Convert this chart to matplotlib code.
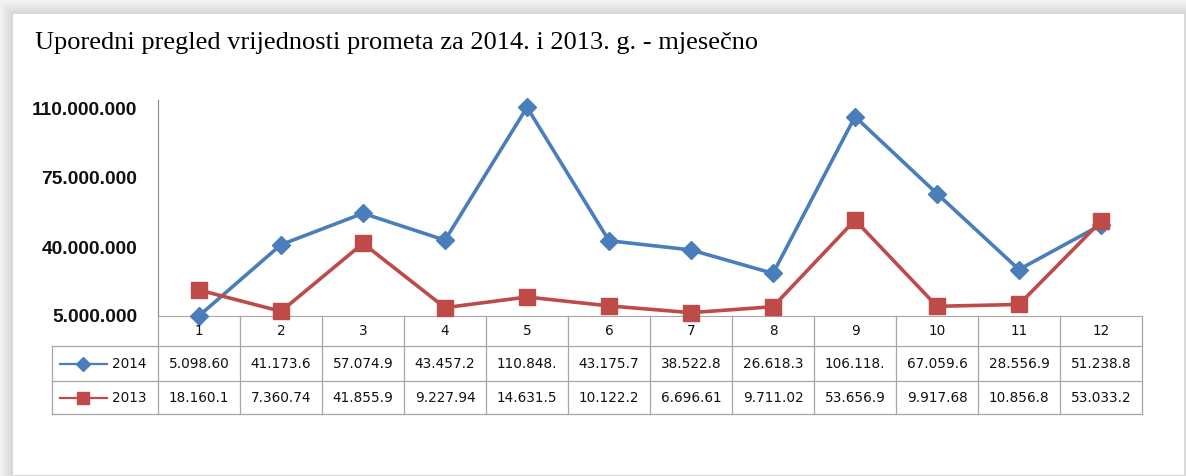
import numpy as np
import matplotlib
matplotlib.use("Agg")
import matplotlib.pyplot as plt
from matplotlib import transforms
from matplotlib.lines import Line2D

# ---- data ----
months = [1, 2, 3, 4, 5, 6, 7, 8, 9, 10, 11, 12]
series_names = ["2014", "2013"]
values_2014 = [5098600, 41173600, 57074900, 43457200, 110848000, 43175700,
               38522800, 26618300, 106118000, 67059600, 28556900, 51238800]
values_2013 = [18160100, 7360740, 41855900, 9227940, 14631500, 10122200,
               6696610, 9711020, 53656900, 9917680, 10856800, 53033200]
yticks = [5000000, 40000000, 75000000, 110000000]
title = "Uporedni pregled vrijednosti prometa za 2014. i 2013. g. - mjesečno"

BLUE = "#4A7EBB"
RED = "#BE4B48"
GRID = "#A6A6A6"

W, H = 1186, 476
fig = plt.figure(figsize=(W / 100, H / 100), dpi=100)
fig.patch.set_facecolor("white")

# ---- shadow frame (decoration) ----
img = np.ones((H, W, 3))
yy, xx = np.mgrid[0:H, 0:W]
px0, py0, px1, py1 = 13, 14, 1183, 474
dx = np.maximum(np.maximum(px0 - xx, xx - px1), 0)
dy = np.maximum(np.maximum(py0 - yy, yy - py1), 0)
d = np.maximum(dx, dy)
inside = (d == 0)
shade = np.where(inside, 1.0, 0.84 + 0.12 * np.clip(d / 14.0, 0, 1))
img *= shade[..., None]
fig.figimage(img, xo=0, yo=0, origin="upper", zorder=0)


def fx(p):
    return p / W


def fy(p):
    return 1 - p / H


ax_left, ax_right, ax_top, ax_bot = 158, 1142, 100, 316
ax = fig.add_axes([fx(ax_left), fy(ax_bot), fx(ax_right - ax_left), (ax_bot - ax_top) / H])
ax.set_zorder(2)
ax.patch.set_alpha(0)
ax.set_xlim(0.5, 12.5)
ymin = 5e6
ax.set_ylim(ymin, ymin + (ax_bot - ax_top) / 207.0 * 105e6)

ax.plot(months, values_2014, color=BLUE, lw=2.6, marker="D", ms=9.5,
        mfc=BLUE, mec=BLUE, zorder=3, clip_on=False, solid_joinstyle="round")
ax.plot(months, values_2013, color=RED, lw=2.6, marker="s", ms=12,
        mfc=RED, mec=RED, zorder=3, clip_on=False, solid_joinstyle="round")

for s in ["top", "right"]:
    ax.spines[s].set_visible(False)
ax.spines["left"].set_color("#868686")
ax.spines["bottom"].set_color(GRID)
ax.spines["left"].set_linewidth(0.8)
ax.spines["bottom"].set_linewidth(0.8)
ax.set_xticks([])
ax.set_yticks(yticks)
ax.set_yticklabels([f"{v:,}".replace(",", ".") for v in yticks],
                   fontfamily="Liberation Sans", fontweight="bold", fontsize=13.8,
                   color="#111111")
ax.tick_params(axis="y", length=0, pad=15)

# ---- data table ----
ah = ax_bot - ax_top
aw = ax_right - ax_left
tr = transforms.blended_transform_factory(ax.transData, ax.transAxes)
rows = [0, -30 / ah, -65 / ah, -98 / ah]
leg_left = (52 - ax_left) / aw

kw = dict(color=GRID, lw=0.9, clip_on=False)
for r in rows[1:]:
    ax.add_line(Line2D([leg_left, 1], [r, r], transform=ax.transAxes, **kw))
for b in np.arange(0.5, 13.0, 1.0):
    ax.add_line(Line2D([b, b], [rows[0], rows[3]], transform=tr, **kw))
ax.add_line(Line2D([leg_left, leg_left], [rows[1], rows[3]], transform=ax.transAxes, **kw))

tfont = dict(fontfamily="DejaVu Sans", fontsize=9.8, color="#111111")
for m in months:
    ax.text(m, (rows[0] + rows[1]) / 2, str(m), transform=tr, ha="center", va="center", **tfont)


def cell(v):
    return f"{v:,}".replace(",", ".")[:8]


for vals, r0, r1, col, mk, ms, name in [
        (values_2014, rows[1], rows[2], BLUE, "D", 7, series_names[0]),
        (values_2013, rows[2], rows[3], RED, "s", 9, series_names[1])]:
    yc = (r0 + r1) / 2
    for m, v in zip(months, vals):
        ax.text(m, yc, cell(v), transform=tr, ha="center", va="center", **tfont)
    ax.add_line(Line2D([(60 - ax_left) / aw, (107 - ax_left) / aw], [yc, yc],
                       transform=ax.transAxes, color=col, lw=1.6, clip_on=False))
    ax.add_line(Line2D([(83 - ax_left) / aw], [yc], transform=ax.transAxes, color=col,
                       marker=mk, ms=ms, mfc=col, mec=col, clip_on=False))
    ax.text((112 - ax_left) / aw, yc, name, transform=ax.transAxes, ha="left", va="center", **tfont)

fig.text(fx(35), fy(43), title, fontfamily="Liberation Serif", fontsize=19,
         ha="left", va="center", color="#000000", zorder=5)

fig.savefig("out.png", dpi=100)
